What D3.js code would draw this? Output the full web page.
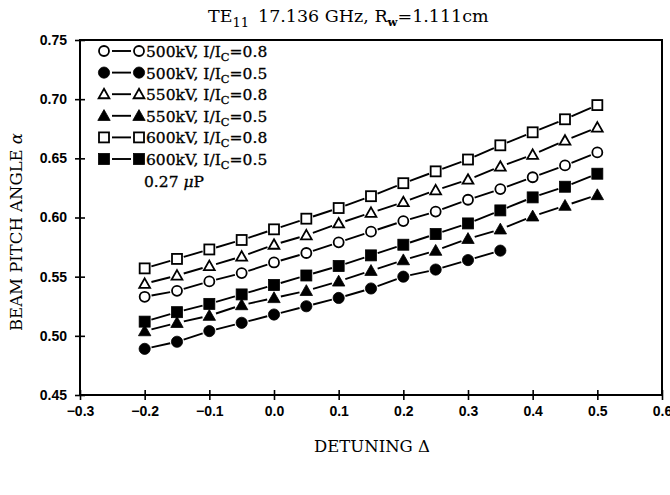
<!DOCTYPE html>
<html>
<head>
<meta charset="utf-8">
<script src="https://cdn.jsdelivr.net/npm/d3@7"></script>
<style>
  html, body { margin: 0; padding: 0; background: #fff; }
  svg { display: block; }
</style>
</head>
<body>
<div id="chart"></div>
<script>
// ── Data ─────────────────────────────────────────────────────────────────────
const detuning = [-0.2, -0.15, -0.1, -0.05, 0.0, 0.05, 0.1, 0.15, 0.2, 0.25, 0.3, 0.35, 0.4, 0.45, 0.5];

const alpha500_08 = [0.533, 0.538, 0.546, 0.553, 0.562, 0.570, 0.579, 0.588, 0.597, 0.605, 0.615, 0.624, 0.634, 0.644, 0.655];
const alpha500_05 = [0.489, 0.495, 0.504, 0.511, 0.518, 0.525, 0.532, 0.540, 0.550, 0.556, 0.564, 0.572];
const alpha550_08 = [0.544, 0.551, 0.559, 0.567, 0.577, 0.585, 0.595, 0.604, 0.613, 0.623, 0.632, 0.643, 0.653, 0.665, 0.676];
const alpha550_05 = [0.504, 0.511, 0.517, 0.526, 0.532, 0.538, 0.546, 0.555, 0.564, 0.572, 0.582, 0.590, 0.601, 0.610, 0.619];
const alpha600_08 = [0.557, 0.565, 0.573, 0.581, 0.590, 0.599, 0.608, 0.618, 0.629, 0.639, 0.649, 0.661, 0.672, 0.683, 0.695];
const alpha600_05 = [0.512, 0.520, 0.527, 0.535, 0.543, 0.551, 0.559, 0.568, 0.577, 0.586, 0.595, 0.606, 0.617, 0.626, 0.637];

const seriesNames = ['500kV', '500kV', '550kV', '550kV', '600kV', '600kV'];
const ratioLabels = ['0.8', '0.5', '0.8', '0.5', '0.8', '0.5'];
const markerShapes = ['circle', 'circle', 'triangle', 'triangle', 'square', 'square'];
const markerFilled = [false, true, false, true, false, true];
const seriesValues = [alpha500_08, alpha500_05, alpha550_08, alpha550_05, alpha600_08, alpha600_05];

const xTicks = [-0.3, -0.2, -0.1, 0.0, 0.1, 0.2, 0.3, 0.4, 0.5, 0.6];
const yTicks = [0.45, 0.50, 0.55, 0.60, 0.65, 0.70, 0.75];

// ── Dimensions ────────────────────────────────────────────────────────────────
const W = 670, H = 495;
const margin = { top: 40, right: 8, bottom: 100, left: 80 };
const innerW = W - margin.left - margin.right;
const innerH = H - margin.top - margin.bottom;

const serif = '"DejaVu Serif", "Liberation Serif", serif';
const sans = '"Liberation Sans", Arial, sans-serif';

const xScale = d3.scaleLinear().domain([-0.3, 0.6]).range([0, innerW]);
const yScale = d3.scaleLinear().domain([0.45, 0.75]).range([innerH, 0]);

const svg = d3.select('#chart').append('svg')
  .attr('width', W)
  .attr('height', H);

const g = svg.append('g')
  .attr('transform', `translate(${margin.left},${margin.top})`);

// ── Markers ───────────────────────────────────────────────────────────────────
function drawMarker(sel, shape, filled, x, y) {
  const fill = filled ? '#000' : '#fff';
  const sw = filled ? 0.8 : 1.8;
  if (shape === 'circle') {
    sel.append('circle').attr('cx', x).attr('cy', y).attr('r', filled ? 5.6 : 5)
      .attr('fill', fill).attr('stroke', '#000').attr('stroke-width', sw);
  } else if (shape === 'square') {
    const s = filled ? 11 : 10;
    sel.append('rect').attr('x', x - s / 2).attr('y', y - s / 2).attr('width', s).attr('height', s)
      .attr('fill', fill).attr('stroke', '#000').attr('stroke-width', sw);
  } else {
    const s = filled ? 6.2 : 5.4;
    sel.append('path')
      .attr('d', `M${x},${y - s}L${x + s},${y + s * 0.75}L${x - s},${y + s * 0.75}Z`)
      .attr('fill', fill).attr('stroke', '#000').attr('stroke-width', sw);
  }
}

// short segments between neighbours, leaving a gap around each marker
function drawSegments(sel, pts, gap) {
  for (let i = 1; i < pts.length; i++) {
    const [x0, y0] = pts[i - 1];
    const [x1, y1] = pts[i];
    const len = Math.hypot(x1 - x0, y1 - y0);
    const ux = (x1 - x0) / len, uy = (y1 - y0) / len;
    sel.append('line')
      .attr('x1', x0 + ux * gap).attr('y1', y0 + uy * gap)
      .attr('x2', x1 - ux * gap).attr('y2', y1 - uy * gap)
      .attr('stroke', '#000').attr('stroke-width', 1.9);
  }
}

// ── Series ────────────────────────────────────────────────────────────────────
seriesValues.forEach((vals, k) => {
  const pts = vals.map((v, i) => [xScale(detuning[i]), yScale(v)]);
  const sg = g.append('g');
  drawSegments(sg, pts, 7);
  pts.forEach(([x, y]) => drawMarker(sg, markerShapes[k], markerFilled[k], x, y));
});

// ── Frame and axes ────────────────────────────────────────────────────────────
g.append('rect')
  .attr('width', innerW).attr('height', innerH)
  .attr('fill', 'none').attr('stroke', '#000').attr('stroke-width', 2);

g.append('g')
  .attr('transform', `translate(0,${innerH})`)
  .call(d3.axisBottom(xScale).tickValues(xTicks).tickSize(5).tickFormat(d => d < 0 ? '\u2212' + Math.abs(d).toFixed(1) : d.toFixed(1)))
  .call(ax => ax.select('.domain').remove())
  .call(ax => ax.selectAll('line').attr('y1', -5).attr('stroke', '#000').attr('stroke-width', 1.6))
  .call(ax => ax.selectAll('text').attr('y', 11).attr('fill', '#000')
    .style('font-family', sans).style('font-weight', 'bold').style('font-size', '14px'));

g.append('g')
  .call(d3.axisLeft(yScale).tickValues(yTicks).tickSize(5).tickFormat(d3.format('.2f')))
  .call(ax => ax.select('.domain').remove())
  .call(ax => ax.selectAll('line').attr('x1', 5).attr('stroke', '#000').attr('stroke-width', 1.6))
  .call(ax => ax.selectAll('text').attr('x', -13).attr('fill', '#000')
    .style('font-family', sans).style('font-weight', 'bold').style('font-size', '14px'));

// ── Legend ────────────────────────────────────────────────────────────────────
const legend = svg.append('g');
const legY0 = 51, legDy = 21.6;
seriesValues.forEach((_, k) => {
  const y = legY0 + k * legDy;
  legend.append('line').attr('x1', 112).attr('x2', 131).attr('y1', y).attr('y2', y)
    .attr('stroke', '#000').attr('stroke-width', 1.9);
  drawMarker(legend, markerShapes[k], markerFilled[k], 104, y);
  drawMarker(legend, markerShapes[k], markerFilled[k], 139, y);
  const t = legend.append('text').attr('x', 146).attr('y', y + 6)
    .style('font-family', serif).style('font-size', '15.5px')
    .attr('fill', '#000').attr('stroke', '#000').attr('stroke-width', 0.3);
  t.append('tspan').text(`${seriesNames[k]}, I/I`);
  t.append('tspan').attr('dy', 4).style('font-size', '11.5px').text('C');
  t.append('tspan').attr('dy', -4).text(`=${ratioLabels[k]}`);
});
const note = legend.append('text').attr('x', 144).attr('y', legY0 + 6 * legDy + 6)
  .style('font-family', serif).style('font-size', '15.5px')
  .attr('fill', '#000').attr('stroke', '#000').attr('stroke-width', 0.3);
note.append('tspan').text('0.27 ');
note.append('tspan').style('font-style', 'italic').text('\u03bc');
note.append('tspan').text('P');

// ── Title ─────────────────────────────────────────────────────────────────────
const title = svg.append('text').attr('x', 208).attr('y', 22)
  .style('font-family', serif).style('font-size', '17.5px').attr('fill', '#000');
title.append('tspan').text('TE');
title.append('tspan').attr('dy', 5).style('font-size', '13px').text('11');
title.append('tspan').attr('dy', -5).attr('dx', 9).text('17.136 GHz,  R');
title.append('tspan').attr('dy', 4).style('font-size', '11.5px').style('font-weight', 'bold').text('w');
title.append('tspan').attr('dy', -4).text('=1.111cm');

// ── Axis titles ───────────────────────────────────────────────────────────────
svg.append('text')
  .attr('x', 372).attr('y', 452)
  .attr('text-anchor', 'middle')
  .style('font-family', serif).style('font-size', '16.5px').attr('fill', '#000')
  .text('DETUNING  \u0394');

const yl = svg.append('text')
  .attr('transform', `translate(22,232) rotate(-90)`)
  .attr('text-anchor', 'middle')
  .style('font-family', serif).style('font-size', '16.5px').attr('fill', '#000');
yl.append('tspan').text('BEAM PITCH ANGLE  ');
yl.append('tspan').style('font-style', 'italic').text('\u03b1');
</script>
</body>
</html>
